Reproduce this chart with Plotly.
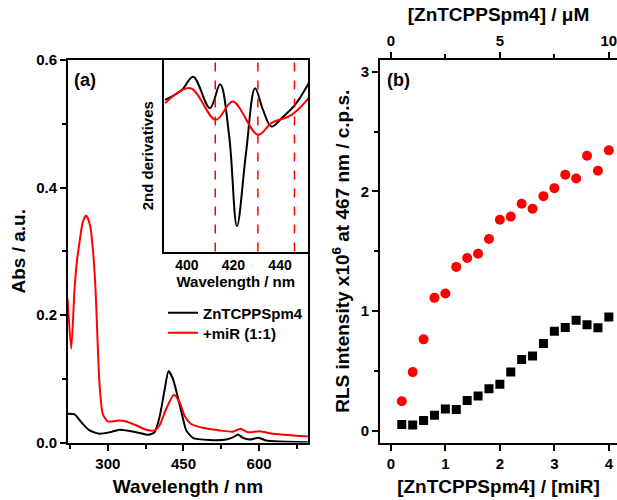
import plotly.graph_objects as go

# ---------- Panel (a): absorption spectra ----------
wl_black = [220.6, 234, 250.4, 263.7, 283.5, 303.4, 323.2, 343, 362.9, 379.4, 392.7, 402.6, 412.5,
            420.4, 429, 438.9, 446.8, 455.6, 468.7, 501.8, 534.9, 548, 558, 567.9, 581, 599, 614.3,
            640.7, 696.8]
abs_black = [0.045, 0.044, 0.029, 0.019, 0.0137, 0.016, 0.020, 0.018, 0.015, 0.012, 0.016, 0.040, 0.082,
             0.112, 0.100, 0.071, 0.045, 0.019, 0.0074, 0.004, 0.0047, 0.008, 0.0126, 0.0074, 0.0047,
             0.0074, 0.003, 0.0016, 0.0005]

wl_red = [220, 227.4, 234, 238.5, 243.8, 250.4, 257.1, 265, 270.2, 275.6, 278.2, 283.5, 290, 300,
          323, 336.5, 356, 376, 392.7, 402.6, 415.9, 431, 442.3, 452.2, 465.5, 488.5, 521.6, 548,
          563.3, 577.8, 601, 627.4, 667, 696.8]
abs_red = [0.226, 0.147, 0.241, 0.283, 0.314, 0.346, 0.356, 0.340, 0.304, 0.241, 0.189, 0.092, 0.045,
           0.033, 0.0345, 0.033, 0.027, 0.020, 0.019, 0.027, 0.053, 0.075, 0.063, 0.042, 0.029, 0.023,
           0.019, 0.017, 0.0215, 0.016, 0.0177, 0.0136, 0.011, 0.0094]

# ---------- Inset: 2nd derivatives (arbitrary units) ----------
wl_d2_black = [390.7, 397.9, 402.7, 409.9, 414.3, 418.2, 421.5, 425.4, 429.3, 432.7, 436.3, 441.4, 446.4, 452.3]
d2_black = [0.60, 0.70, 0.833, 0.517, 0.757, 0.233, -0.667, 0.067, 0.717, 0.50, 0.333, 0.433, 0.55, 0.767]
wl_d2_red = [390.7, 401.5, 412.4, 419.7, 430.5, 436.3, 445.0, 452.3]
d2_red = [0.567, 0.717, 0.40, 0.583, 0.25, 0.367, 0.45, 0.617]
marker_lines = [412.2, 430.5, 446.2]

# ---------- Panel (b): RLS intensity ----------
ratio = [0.2, 0.4, 0.6, 0.8, 1.0, 1.2, 1.4, 1.6, 1.8, 2.0, 2.2, 2.4, 2.6, 2.8, 3.0, 3.2, 3.4, 3.6, 3.8, 4.0]
rls_black = [0.05, 0.047, 0.084, 0.128, 0.181, 0.176, 0.251, 0.288, 0.349, 0.388, 0.489, 0.595, 0.623,
             0.729, 0.83, 0.863, 0.922, 0.885, 0.86, 0.95]
rls_red = [0.245, 0.489, 0.763, 1.11, 1.146, 1.369, 1.444, 1.48, 1.603, 1.763, 1.79, 1.897, 1.855,
           1.961, 2.028, 2.14, 2.109, 2.299, 2.174, 2.344]

W, H = 617, 500
FONT = "Liberation Sans"

def px_x(p):
    return p / W

def px_y(p):
    return 1 - p / H

fig = go.Figure()

fig.add_trace(go.Scatter(x=wl_black, y=abs_black, mode="lines", name="ZnTCPPSpm4", legend="legend",
                         line=dict(color="black", width=2, shape="spline", smoothing=0.6),
                         xaxis="x", yaxis="y"))
fig.add_trace(go.Scatter(x=wl_red, y=abs_red, mode="lines", name="+miR (1:1)", legend="legend2",
                         line=dict(color="#ff0000", width=2, shape="spline", smoothing=0.6),
                         xaxis="x", yaxis="y"))

fig.add_trace(go.Scatter(x=wl_d2_black, y=d2_black, mode="lines", showlegend=False,
                         line=dict(color="black", width=2, shape="spline", smoothing=1.0),
                         xaxis="x2", yaxis="y2"))
fig.add_trace(go.Scatter(x=wl_d2_red, y=d2_red, mode="lines", showlegend=False,
                         line=dict(color="#ff0000", width=2, shape="spline", smoothing=1.0),
                         xaxis="x2", yaxis="y2"))

fig.add_trace(go.Scatter(x=ratio, y=rls_red, mode="markers", showlegend=False,
                         marker=dict(color="#ff0000", size=10, symbol="circle"),
                         xaxis="x3", yaxis="y3"))
fig.add_trace(go.Scatter(x=ratio, y=rls_black, mode="markers", showlegend=False,
                         marker=dict(color="black", size=9, symbol="square"),
                         xaxis="x3", yaxis="y3"))
# invisible trace to activate top axis
fig.add_trace(go.Scatter(x=[0, 10], y=[None, None], mode="markers", showlegend=False,
                         hoverinfo="skip", xaxis="x4", yaxis="y3"))

tickfont = dict(family=FONT, size=15, color="black", weight="bold")
titlefont = dict(family=FONT, size=19, color="black", weight="bold")
smallfont = dict(family=FONT, size=14, color="black", weight="bold")
insettitle = dict(family=FONT, size=15, color="black", weight="bold")
legfont = dict(family=FONT, size=15, color="black", weight="bold")

axis_common = dict(showline=True, linecolor="black", linewidth=2, showgrid=False, zeroline=False,
                   ticks="outside", ticklen=6, tickwidth=2, tickcolor="black", tickfont=tickfont,
                   automargin=False, ticklabeloverflow="allow")

ydom = [px_y(442.5), px_y(60)]

fig.update_layout(
    width=W, height=H,
    margin=dict(l=0, r=0, t=0, b=0),
    paper_bgcolor="white", plot_bgcolor="white",
    showlegend=True,
    legend=dict(x=px_x(163), y=px_y(313), xanchor="left", yanchor="middle",
                bgcolor="rgba(0,0,0,0)", font=legfont, itemwidth=30),
    legend2=dict(x=px_x(163), y=px_y(333), xanchor="left", yanchor="middle",
                 bgcolor="rgba(0,0,0,0)", font=legfont, itemwidth=30),
    xaxis=dict(**axis_common, domain=[px_x(68), px_x(308)], range=[221, 697], anchor="y",
               tickvals=[300, 450, 600], mirror=True,
               minor=dict(tickvals=[225, 375, 525, 675], ticks="outside", ticklen=4, tickwidth=2, tickcolor="black"),
               title=dict(text="Wavelength / nm", font=titlefont, standoff=9)),
    yaxis=dict(**axis_common, domain=ydom, range=[0, 0.6], anchor="x",
               tickvals=[0, 0.2, 0.4, 0.6], tickformat=".1f", mirror=True,
               minor=dict(tickvals=[0.1, 0.3, 0.5], ticks="outside", ticklen=4, tickwidth=2, tickcolor="black"),
               title=dict(text="Abs / a.u.", font=titlefont, standoff=5)),
    xaxis2=dict(showline=True, linecolor="black", linewidth=2, showgrid=False, zeroline=False,
                mirror=True, ticks="", domain=[px_x(163.5), px_x(308)], range=[390, 452], anchor="y2",
                tickvals=[400, 420, 440], tickfont=smallfont, automargin=False,
                title=dict(text="Wavelength / nm", font=insettitle, standoff=1)),
    yaxis2=dict(showline=True, linecolor="black", linewidth=2, showgrid=False, zeroline=False,
                mirror=True, ticks="", showticklabels=False, domain=[px_y(251.5), px_y(60)],
                range=[-0.92, 1.0], anchor="x2", automargin=False,
                title=dict(text="2nd derivatives", font=insettitle, standoff=4)),
    xaxis3=dict(**axis_common, domain=[px_x(380), 1.0], range=[-0.2, 4.15], anchor="y3",
                tickvals=[0, 1, 2, 3, 4],
                title=dict(text="[ZnTCPPSpm4] / [miR]", font=titlefont, standoff=9)),
    yaxis3=dict(**axis_common, domain=ydom, range=[-0.1, 3.1], anchor="x3",
                tickvals=[0, 1, 2, 3],
                minor=dict(tickvals=[0.5, 1.5, 2.5], ticks="outside", ticklen=4, tickwidth=2, tickcolor="black"),
                title=dict(text="RLS intensity x10<sup>6</sup> at 467 nm / c.p.s.", font=titlefont, standoff=6)),
    xaxis4=dict(**axis_common, overlaying="x3", side="top", anchor="y3",
                range=[-0.5, 10.375], tickvals=[0, 5, 10],
                minor=dict(tickvals=[2.5, 7.5], ticks="outside", ticklen=4, tickwidth=2, tickcolor="black"),
                title=dict(text="[ZnTCPPSpm4] / μM", font=titlefont, standoff=5)),
)

for xv in marker_lines:
    fig.add_shape(type="line", xref="x2", yref="y2 domain", x0=xv, x1=xv, y0=0, y1=1,
                  line=dict(color="#ff0000", width=1.5, dash="dash"))

fig.add_annotation(text="(a)", xref="paper", yref="paper", x=px_x(72), y=px_y(80),
                   xanchor="left", yanchor="middle", showarrow=False,
                   font=dict(family=FONT, size=18, color="black", weight="bold"))
fig.add_annotation(text="(b)", xref="paper", yref="paper", x=px_x(385), y=px_y(80),
                   xanchor="left", yanchor="middle", showarrow=False,
                   font=dict(family=FONT, size=18, color="black", weight="bold"))

fig.write_html("out.html", config={"displayModeBar": False},
               post_script="document.body.style.margin='0';document.body.style.overflow='hidden';")
